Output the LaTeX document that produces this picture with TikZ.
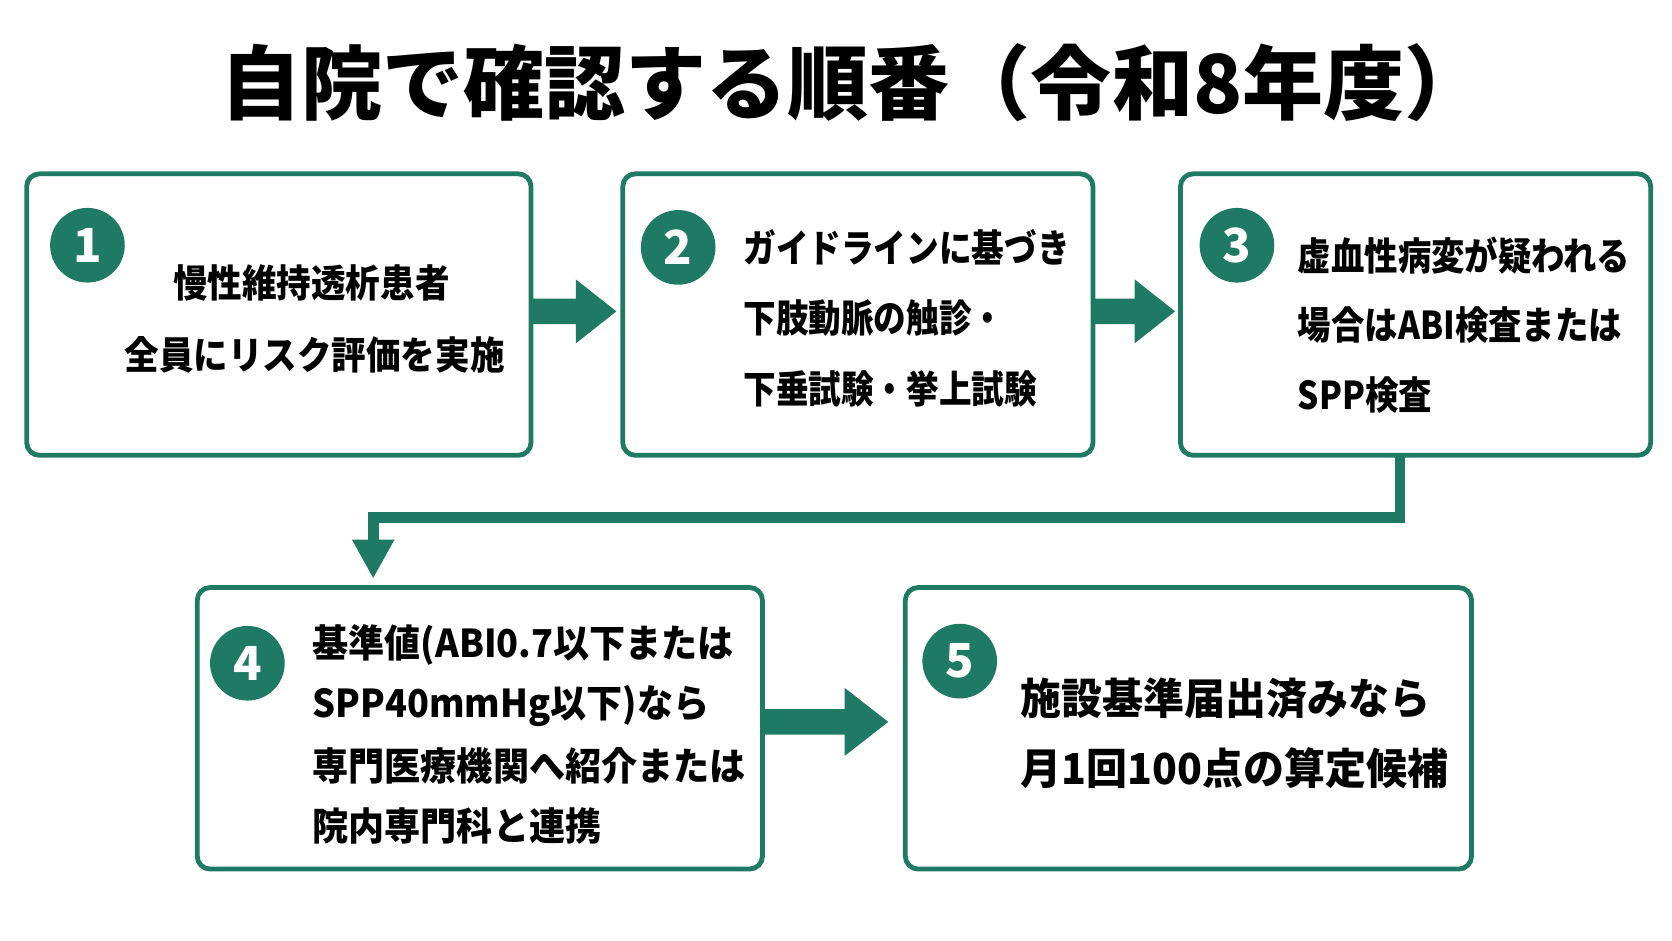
\documentclass[tikz,border=0pt]{standalone}
\usepackage{fontspec}
\setmainfont{Noto Sans CJK JP}
\definecolor{gr}{HTML}{1E7A62}
\begin{document}
\begin{tikzpicture}[x=1pt,y=-1pt,
  box/.style={draw=gr,line width=4.5pt,rounded corners=12pt,fill=white},
  num/.style={circle,fill=gr,text=white,minimum size=70pt,inner sep=0pt,font=\fontsize{44}{44}\selectfont\bfseries},
  txt/.style={font=\fontsize{36}{36}\selectfont\bfseries,inner sep=0pt},
  blk/.style={fill=gr}]
\useasboundingbox (0,0) rectangle (1568,882);
\node[font=\fontsize{76}{76}\selectfont\bfseries] (title) at (800,78) {自院で確認する順番（令和8年度）};
\draw[box] (25,163) rectangle (498,427);
\draw[box] (584,163) rectangle (1025,427);
\draw[box] (1107,163) rectangle (1548,427);
\draw[box] (185,551) rectangle (715,815);
\draw[box] (849,551) rectangle (1380,815);
\node[num] (n1) at (82,230) {1};
\node[num] (n2) at (636,232) {2};
\node[num] (n3) at (1160,230) {3};
\node[num] (n4) at (232,622) {4};
\node[num] (n5) at (900,620) {5};
\begin{scope}[every node/.style={txt,xscale=0.9}]
\node (t1a) at (292,265) {慢性維持透析患者};
\node (t1b) at (295,333) {全員にリスク評価を実施};
\end{scope}
\begin{scope}[every node/.style={txt,anchor=west,xscale=0.85}]
\node (t2a) at (697,232) {ガイドラインに基づき};
\node (t2b) at (697,298) {下肢動脈の触診・};
\node (t2c) at (697,365) {下垂試験・挙上試験};
\end{scope}
\begin{scope}[every node/.style={txt,anchor=west,xscale=0.87}]
\node (t3a) at (1217,240) {虚血性病変が疑われる};
\node (t3b) at (1217,305) {場合はABI検査または};
\node (t3c) at (1217,370) {SPP検査};
\end{scope}
\begin{scope}[every node/.style={txt,anchor=west,xscale=0.94}]
\node (t4a) at (293,605) {基準値(ABI0.7以下または};
\node (t4b) at (293,662) {SPP40mmHg以下)なら};
\node (t4c) at (293,718) {専門医療機関へ紹介または};
\node (t4d) at (293,775) {院内専門科と連携};
\end{scope}
\begin{scope}[every node/.style={txt,anchor=west,xscale=0.96,font=\fontsize{40}{40}\selectfont\bfseries}]
\node (t5a) at (957,655) {施設基準届出済みなら};
\node (t5b) at (957,720) {月1回100点の算定候補};
\end{scope}
% block arrows
\fill[blk] (500,280) -- (540,280) -- (540,262) -- (578,292) -- (540,322) -- (540,304) -- (500,304) -- cycle;
\fill[blk] (1027,280) -- (1064,280) -- (1064,262) -- (1102,292) -- (1064,322) -- (1064,304) -- (1027,304) -- cycle;
\fill[blk] (717,665) -- (792,665) -- (792,645) -- (833,677) -- (792,709) -- (792,689) -- (717,689) -- cycle;
\coordinate (c1) at (1313,485);
\coordinate (c2) at (350,485);
\draw[gr,line width=10pt] (1313,429) -- (c1) -- (c2) -- (350,508);
\fill[gr] (330,506) -- (370,506) -- (350,542) -- cycle;
\end{tikzpicture}
\end{document}
